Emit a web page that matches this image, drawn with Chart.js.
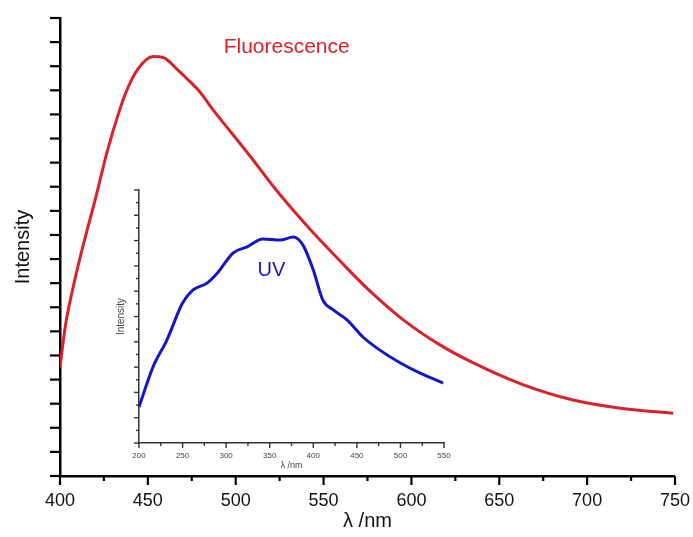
<!DOCTYPE html>
<html>
<head>
<meta charset="utf-8">
<script src="https://cdn.jsdelivr.net/npm/chart.js@4.4.1/dist/chart.umd.min.js"></script>
<style>
  html, body { margin: 0; padding: 0; background: #fff; }
  #wrap { position: relative; width: 693px; height: 537px; }
  #mainChart { position: absolute; left: 0; top: 0; }
  #insetChart { position: absolute; left: 110px; top: 180px; }
</style>
</head>
<body>
<div id="wrap">
  <canvas id="mainChart" width="693" height="537"></canvas>
  <canvas id="insetChart" width="350" height="300"></canvas>
</div>
<script>
// fluorescence emission (main plot)
const flWavelength = [400, 403, 408, 414, 420, 427, 434, 438, 444, 453, 459, 467, 472, 480, 487, 498, 510, 521, 533, 544, 559, 576, 595, 616, 635, 663, 692, 720, 749];
const flIntensity  = [4.5, 6.2, 8.0, 9.8, 11.45, 13.5, 15.2, 16.0, 16.85, 17.4, 17.35, 16.85, 16.5, 15.9, 15.2, 14.2, 13.1, 12.05, 11.0, 10.1, 8.95, 7.7, 6.5, 5.45, 4.7, 3.8, 3.15, 2.8, 2.6];

// UV absorption (inset)
const uvWavelength = [200, 216, 232, 250, 262, 278, 290, 308, 324, 342, 362, 377, 388, 400, 411, 423, 439, 457, 476, 500, 522, 549];
const uvIntensity  = [1.42, 3.0, 4.07, 5.53, 6.05, 6.32, 6.72, 7.51, 7.75, 8.06, 8.02, 8.14, 7.83, 6.84, 5.65, 5.26, 4.86, 4.19, 3.68, 3.16, 2.77, 2.37];

// ticks
const mainXTicks = [400, 450, 500, 550, 600, 650, 700, 750];
const mainXMinor = [425, 475, 525, 575, 625, 675, 725];
const mainYTicks = [0, 1, 2, 3, 4, 5, 6, 7, 8, 9, 10, 11, 12, 13, 14, 15, 16, 17, 18, 19];
const insetXTicks = [200, 250, 300, 350, 400, 450, 500, 550];
const insetXMinor = [225, 275, 325, 375, 425, 475, 525];
const insetYTicks = [0, 1, 2, 3, 4, 5, 6, 7, 8, 9, 10];
const insetYMinor = [0.5, 1.5, 2.5, 3.5, 4.5, 5.5, 6.5, 7.5, 8.5, 9.5];

const FONT = '"Liberation Sans", Arial, sans-serif';
const RED = '#d8232a';
const BLUE = '#1616c8';

// outward tick marks, long and short
const tickMarks = {
  id: 'tickMarks',
  afterDraw(chart, args, o) {
    const ctx = chart.ctx;
    const xs = chart.scales.x, ys = chart.scales.y;
    const { left, bottom } = chart.chartArea;
    ctx.save();
    ctx.strokeStyle = o.color;
    ctx.lineWidth = o.width;
    const seg = (x1, y1, x2, y2) => { ctx.beginPath(); ctx.moveTo(x1, y1); ctx.lineTo(x2, y2); ctx.stroke(); };
    o.xMajor.forEach(v => { const p = xs.getPixelForValue(v); seg(p, bottom, p, bottom + o.xMajorLen); });
    o.xMinor.forEach(v => { const p = xs.getPixelForValue(v); seg(p, bottom, p, bottom + o.xMinorLen); });
    o.yMajor.forEach(v => { const p = ys.getPixelForValue(v); seg(left, p, left - o.yMajorLen, p); });
    o.yMinor.forEach(v => { const p = ys.getPixelForValue(v); seg(left, p, left - o.yMinorLen, p); });
    ctx.restore();
  }
};

// in-plot text labels
const plotText = {
  id: 'plotText',
  afterDatasetsDraw(chart, args, o) {
    const ctx = chart.ctx;
    ctx.save();
    ctx.textAlign = 'center';
    ctx.textBaseline = 'middle';
    o.items.forEach(t => {
      ctx.fillStyle = t.color;
      ctx.font = t.size + 'px ' + FONT;
      ctx.fillText(t.text, chart.scales.x.getPixelForValue(t.x), chart.scales.y.getPixelForValue(t.y));
    });
    ctx.restore();
  }
};

function fixTicks(list) {
  return scale => { scale.ticks = list.map(v => ({ value: v })); };
}

// invisible grid ticks only push the labels away from the axis
const hiddenGrid = len => ({ display: true, drawOnChartArea: false, drawTicks: true, tickLength: len, tickColor: 'rgba(0,0,0,0)' });

new Chart(document.getElementById('mainChart'), {
  type: 'line',
  data: {
    datasets: [{
      data: flWavelength.map((w, i) => ({ x: w, y: flIntensity[i] })),
      borderColor: RED, borderWidth: 3, pointRadius: 0, cubicInterpolationMode: 'monotone', fill: false
    }]
  },
  options: {
    responsive: false,
    animation: false,
    layout: { padding: { left: 0, right: 18, top: 18, bottom: 0 } },
    plugins: {
      legend: { display: false },
      tooltip: { enabled: false },
      tickMarks: { color: '#000', width: 2.2, xMajor: mainXTicks, xMinor: mainXMinor, xMajorLen: 9, xMinorLen: 5,
                   yMajor: mainYTicks, yMinor: [], yMajorLen: 10, yMinorLen: 0 },
      plotText: { items: [{ text: 'Fluorescence', x: 529, y: 17.8, size: 21, color: RED }] }
    },
    scales: {
      x: {
        type: 'linear', min: 400, max: 750,
        afterBuildTicks: fixTicks(mainXTicks),
        afterFit: s => { s.height = 61; },
        grid: hiddenGrid(11),
        border: { display: true, color: '#000', width: 2.5 },
        ticks: { padding: 3, color: '#111', font: { family: FONT, size: 18 }, maxRotation: 0 },
        title: { display: true, text: 'λ /nm', color: '#111', font: { family: FONT, size: 20 }, padding: { top: 0, bottom: 4 } }
      },
      y: {
        type: 'linear', min: 0, max: 19,
        afterBuildTicks: fixTicks(mainYTicks),
        afterFit: s => { s.width = 60; },
        grid: { display: false, drawTicks: false },
        border: { display: true, color: '#000', width: 2.5 },
        ticks: { display: false },
        title: { display: true, text: 'Intensity', color: '#111', font: { family: FONT, size: 20 }, padding: { top: 11, bottom: 0 } }
      }
    }
  },
  plugins: [tickMarks, plotText]
});

new Chart(document.getElementById('insetChart'), {
  type: 'line',
  data: {
    datasets: [{
      data: uvWavelength.map((w, i) => ({ x: w, y: uvIntensity[i] })),
      borderColor: BLUE, borderWidth: 3, pointRadius: 0, cubicInterpolationMode: 'monotone', fill: false
    }]
  },
  options: {
    responsive: false,
    animation: false,
    layout: { padding: { left: 0, right: 16, top: 10, bottom: 0 } },
    plugins: {
      legend: { display: false },
      tooltip: { enabled: false },
      tickMarks: { color: '#333', width: 1.4, xMajor: insetXTicks, xMinor: insetXMinor, xMajorLen: 5, xMinorLen: 3,
                   yMajor: insetYTicks, yMinor: insetYMinor, yMajorLen: 5, yMinorLen: 3 },
      plotText: { items: [{ text: 'UV', x: 352, y: 6.8, size: 20, color: BLUE }] }
    },
    scales: {
      x: {
        type: 'linear', min: 200, max: 550,
        afterBuildTicks: fixTicks(insetXTicks),
        afterFit: s => { s.height = 37; },
        grid: hiddenGrid(6),
        border: { display: true, color: '#333', width: 1.5 },
        ticks: { padding: 2, color: '#444', font: { family: FONT, size: 8 }, maxRotation: 0 },
        title: { display: true, text: 'λ /nm', color: '#444', font: { family: FONT, size: 9 }, padding: { top: 0, bottom: 9 } }
      },
      y: {
        type: 'linear', min: 0, max: 10,
        afterBuildTicks: fixTicks(insetYTicks),
        afterFit: s => { s.width = 29; },
        grid: { display: false, drawTicks: false },
        border: { display: true, color: '#333', width: 1.5 },
        ticks: { display: false },
        title: { display: true, text: 'Intensity', color: '#444', font: { family: FONT, size: 10 }, padding: { top: 5, bottom: 0 } }
      }
    }
  },
  plugins: [tickMarks, plotText]
});
</script>
</body>
</html>
